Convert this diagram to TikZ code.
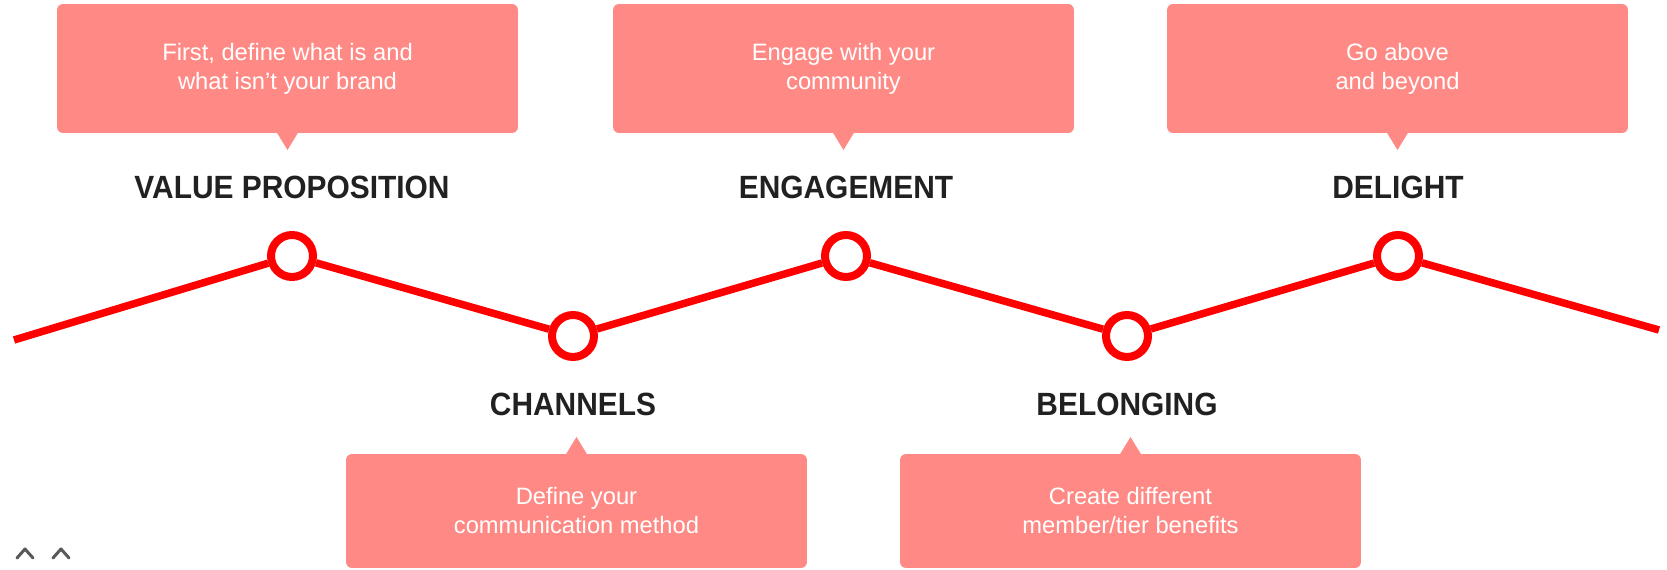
\documentclass[tikz,border=0pt]{standalone}
\usepackage{fontspec}
\setmainfont{Liberation Sans}
\newfontfamily\headfont[FakeStretch=0.93]{Liberation Sans}
\usetikzlibrary{positioning}
\definecolor{clrline}{HTML}{FF0000}
\definecolor{clrnote}{HTML}{FF8A85}
\definecolor{clrhead}{HTML}{212121}
\definecolor{clrcaret}{HTML}{595959}

\begin{document}
\begin{tikzpicture}[
    x=0.02cm, y=-0.02cm,
    note/.style={fill=clrnote, rounded corners=0.12cm, minimum width=9.22cm,
                 minimum height=2.58cm, inner sep=0pt, outer sep=0pt,
                 text=white, align=center, font=\fontsize{13.5}{16.5}\selectfont},
    lownote/.style={note, minimum height=2.28cm},
    heading/.style={font=\headfont\bfseries\fontsize{18.3}{22}\selectfont,
                    text=clrhead, inner sep=0pt},
    dot/.style={circle, draw=clrline, fill=white, line width=0.16cm,
                minimum size=0.84cm, inner sep=0pt},
    zigzag/.style={draw=clrline, line width=0.15cm},
    caret/.style={draw=clrcaret, line width=0.06cm, line cap=round, line join=round},
]
\useasboundingbox (0,0) rectangle (1667,570);
\node[dot] (dot_1) at (292,256) {};
\node[dot] (dot_2) at (573,336) {};
\node[dot] (dot_3) at (846,256) {};
\node[dot] (dot_4) at (1127,336) {};
\node[dot] (dot_5) at (1398,256) {};
\coordinate (line_l) at (14,340);
\coordinate (line_r) at (1659,330);
\node[heading, above=0.66cm of dot_1, anchor=base] (head_1) {VALUE PROPOSITION};
\node[heading, below=1.1cm of dot_2, anchor=base] (head_2) {CHANNELS};
\node[heading, above=0.66cm of dot_3, anchor=base] (head_3) {ENGAGEMENT};
\node[heading, below=1.1cm of dot_4, anchor=base] (head_4) {BELONGING};
\node[heading, above=0.66cm of dot_5, anchor=base] (head_5) {DELIGHT};
\node[note] (box_1) at (287.5,68.5) {First, define what is and\\what isn’t your brand};
\node[lownote] (box_2) at (576.5,511) {Define your\\communication method};
\node[note] (box_3) at (843.5,68.5) {Engage with your\\community};
\node[lownote] (box_4) at (1130.5,511) {Create different\\member/tier benefits};
\node[note] (box_5) at (1397.5,68.5) {Go above\\and beyond};
\fill[clrnote] (box_1.south) ++(-11,-1) -- ++(11,18) -- ++(11,-18) -- cycle;
\fill[clrnote] (box_3.south) ++(-11,-1) -- ++(11,18) -- ++(11,-18) -- cycle;
\fill[clrnote] (box_5.south) ++(-11,-1) -- ++(11,18) -- ++(11,-18) -- cycle;
\fill[clrnote] (box_2.north) ++(-11,1) -- ++(11,-18) -- ++(11,18) -- cycle;
\fill[clrnote] (box_4.north) ++(-11,1) -- ++(11,-18) -- ++(11,18) -- cycle;
\draw[zigzag] (line_l) -- (dot_1) -- (dot_2) -- (dot_3) -- (dot_4) -- (dot_5) -- (line_r);
\draw[caret] (17,558) -- (25,549) -- (33,558);
\draw[caret] (53,558) -- (61,549) -- (69,558);
\end{tikzpicture}
\end{document}
